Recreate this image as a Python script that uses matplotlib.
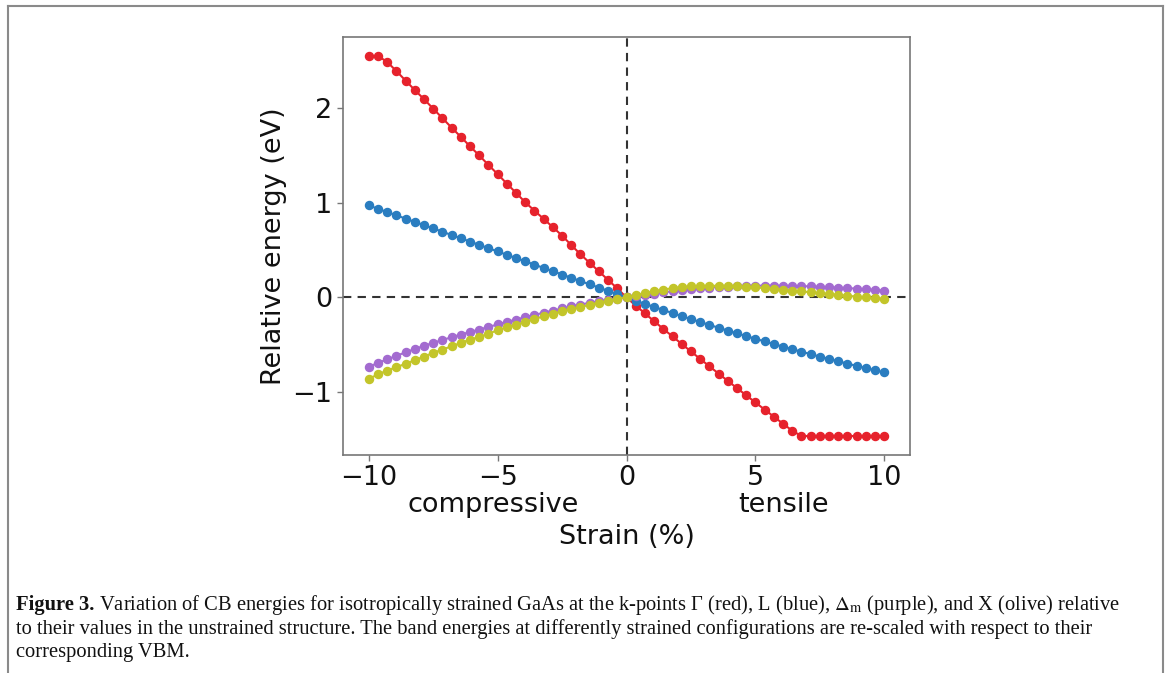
import numpy as np
import matplotlib
matplotlib.use("Agg")
import matplotlib.pyplot as plt
from matplotlib.lines import Line2D

# strain grid (%), 57 points from -10 to 10
strain = np.linspace(-10, 10, 57)

# relative CB energies (eV)
gamma_red = [2.54, 2.545, 2.483, 2.386, 2.286, 2.186, 2.09, 1.99, 1.89, 1.79,
             1.693, 1.593, 1.497, 1.397, 1.30, 1.20, 1.103, 1.003, 0.915, 0.828,
             0.741, 0.652, 0.552, 0.455, 0.365, 0.275, 0.185, 0.095, 0.0,
             -0.085, -0.168, -0.25, -0.331, -0.411, -0.49, -0.569, -0.647, -0.725,
             -0.802, -0.879, -0.955, -1.031, -1.106, -1.181, -1.256, -1.33, -1.404,
             -1.46, -1.46, -1.46, -1.46, -1.46, -1.46, -1.46, -1.46, -1.46, -1.46]
l_blue = [0.970, 0.935, 0.900, 0.866, 0.831, 0.797, 0.762, 0.728, 0.693, 0.658,
          0.624, 0.589, 0.554, 0.520, 0.485, 0.450, 0.415, 0.381, 0.346, 0.311,
          0.277, 0.242, 0.207, 0.173, 0.138, 0.104, 0.069, 0.035, 0.0,
          -0.034, -0.067, -0.100, -0.132, -0.165, -0.196, -0.228, -0.258, -0.289,
          -0.319, -0.349, -0.378, -0.407, -0.435, -0.463, -0.491, -0.518, -0.545,
          -0.571, -0.597, -0.623, -0.648, -0.672, -0.697, -0.721, -0.744, -0.767, -0.790]
dm_purple = [-0.731, -0.69, -0.652, -0.615, -0.578, -0.543, -0.51, -0.478, -0.448, -0.419,
             -0.391, -0.364, -0.338, -0.311, -0.284, -0.258, -0.233, -0.208, -0.184, -0.161,
             -0.138, -0.116, -0.095, -0.075, -0.056, -0.039, -0.024, -0.011, 0.0,
             0.014, 0.028, 0.041, 0.054, 0.066, 0.077, 0.087, 0.096, 0.104,
             0.11, 0.115, 0.119, 0.122, 0.124, 0.125, 0.125, 0.124, 0.122,
             0.12, 0.117, 0.113, 0.109, 0.104, 0.099, 0.093, 0.087, 0.08, 0.072]
x_olive = [-0.857, -0.811, -0.77, -0.735, -0.699, -0.661, -0.623, -0.584, -0.549, -0.514,
           -0.479, -0.444, -0.416, -0.381, -0.346, -0.315, -0.287, -0.259, -0.227, -0.199,
           -0.171, -0.147, -0.122, -0.101, -0.077, -0.055, -0.035, -0.017, 0.0,
           0.022, 0.045, 0.065, 0.083, 0.098, 0.11, 0.117, 0.121, 0.123,
           0.123, 0.121, 0.117, 0.112, 0.106, 0.099, 0.091, 0.082, 0.073,
           0.064, 0.055, 0.045, 0.036, 0.027, 0.018, 0.009, 0.0, -0.008, -0.015]

series = [gamma_red, l_blue, dm_purple, x_olive]
colors = ["#e6222c", "#2a7dc0", "#a36bd0", "#c3c52a"]

plt.rcParams["mathtext.fontset"] = "stix"

W, H = 1170, 673
fig = plt.figure(figsize=(W / 100, H / 100), dpi=100)
ax = fig.add_axes([343 / W, 1 - 455 / H, (910 - 343) / W, (455 - 37) / H])

# reference lines through the origin
ax.axhline(0, color="#333333", ls="--", lw=1.5, dashes=(4, 3), zorder=1)
ax.axvline(0, color="#333333", ls="--", lw=1.5, dashes=(4, 3), zorder=1)

for vals, c in zip(series, colors):
    ax.plot(strain, vals, "-o", color=c, lw=1.5, ms=5.8, zorder=2)

ax.set_xticks([-10, -5, 0, 5, 10])
ax.set_yticks([-1, 0, 1, 2])
ax.tick_params(labelsize=19.5, length=4, width=1, color="#777777", labelcolor="#111111")
for s in ax.spines.values():
    s.set_color("#777777")
    s.set_linewidth(1.2)

ax.text(-0.1217, 0.5, "Relative energy (eV)", transform=ax.transAxes, rotation=90,
        ha="center", va="center", fontsize=19.5, color="#111111")
xt = ax.get_xaxis_transform()
ax.text(-5.16, -0.12, "compressive", transform=xt, ha="center", va="center",
        fontsize=19.5, color="#111111")
ax.text(6.09, -0.12, "tensile", transform=xt, ha="center", va="center",
        fontsize=19.5, color="#111111")
ax.text(0.5, -0.196, "Strain (%)", transform=ax.transAxes, ha="center", va="center",
        fontsize=19.5, color="#111111")

# page frame
fc = "#8a8a8a"
fig.add_artist(Line2D([8 / W, 1163 / W], [1 - 5.5 / H, 1 - 5.5 / H], transform=fig.transFigure, color=fc, lw=1.5))
fig.add_artist(Line2D([8 / W, 8 / W], [0, 1 - 5.5 / H], transform=fig.transFigure, color=fc, lw=1.5))
fig.add_artist(Line2D([1163 / W, 1163 / W], [0, 1 - 5.5 / H], transform=fig.transFigure, color=fc, lw=1.5))

# caption
cap_bold = "Figure 3."
cap1 = (" Variation of CB energies for isotropically strained GaAs at the k-points \u0393 (red), "
        "L (blue), $\\Delta_{\\rm m}$ (purple), and X (olive) relative")
cap2 = ("to their values in the unstrained structure. The band energies at differently "
        "strained configurations are re-scaled with respect to their")
cap3 = "corresponding VBM."

x0 = 16
fs = 13
r = fig.canvas.get_renderer()
tb = fig.text(x0 / W, 1 - 605 / H, cap_bold, fontsize=fs, family="Liberation Serif",
              weight="bold", va="center", color="#111111")
wb = tb.get_window_extent(r).width
t1 = fig.text((x0 + wb) / W, 1 - 605 / H, cap1, fontsize=fs, family="Liberation Serif",
              va="center", color="#111111")
w1 = t1.get_window_extent(r).width
fs = fs * (1117 - x0) / (wb + w1)
tb.set_fontsize(fs)
wb = tb.get_window_extent(r).width
t1.set_fontsize(fs)
t1.set_x((x0 + wb) / W)
fig.text(x0 / W, 1 - 629 / H, cap2, fontsize=fs, family="Liberation Serif",
         va="center", color="#111111")
fig.text(x0 / W, 1 - 652 / H, cap3, fontsize=fs, family="Liberation Serif",
         va="center", color="#111111")

fig.savefig("out.png", dpi=100)
